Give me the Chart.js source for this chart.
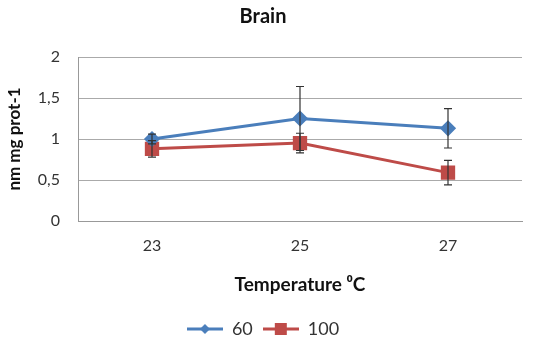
<!DOCTYPE html>
<html>
<head>
<meta charset="utf-8">
<script src="https://cdn.jsdelivr.net/npm/chart.js@4.4.1/dist/chart.umd.min.js"></script>
<style>
  html, body { margin: 0; padding: 0; background: #fff; }
  #wrap { width: 537px; height: 348px; }
</style>
</head>
<body>
<div id="wrap"><canvas id="c" width="537" height="348"></canvas></div>
<script>
const temperatures = ['23', '25', '27'];
const series60 = [1.0, 1.25, 1.13];
const err60 = [0.06, 0.39, 0.24];
const series100 = [0.88, 0.95, 0.59];
const err100 = [0.10, 0.12, 0.15];
const yTicks = [0, 0.5, 1, 1.5, 2];

const BLUE = '#4a7ebb';
const RED = '#be4b48';
const FONT = 'Lato, "Open Sans", sans-serif';

// legend swatch: a short line with the series marker on it
function swatch(color, shape) {
  const cv = document.createElement('canvas');
  cv.width = 36; cv.height = 16;
  const g = cv.getContext('2d');
  g.strokeStyle = color; g.lineWidth = 3;
  g.beginPath(); g.moveTo(0, 8); g.lineTo(36, 8); g.stroke();
  g.fillStyle = color;
  if (shape === 'diamond') {
    g.beginPath(); g.moveTo(18, 3); g.lineTo(23, 8); g.lineTo(18, 13); g.lineTo(13, 8); g.closePath(); g.fill();
  } else {
    g.fillRect(12, 2, 12, 12);
  }
  return cv;
}

// vertical error bars with caps, drawn on top of the lines
const errorBars = {
  id: 'errorBars',
  afterDatasetsDraw(chart) {
    const ctx = chart.ctx;
    const y = chart.scales.y;
    ctx.save();
    ctx.strokeStyle = '#333';
    ctx.lineWidth = 1.2;
    chart.data.datasets.forEach((ds, di) => {
      const meta = chart.getDatasetMeta(di);
      meta.data.forEach((pt, i) => {
        const v = ds.data[i], e = ds.errors[i];
        const top = y.getPixelForValue(v + e);
        const bot = y.getPixelForValue(v - e);
        ctx.beginPath();
        ctx.moveTo(pt.x, top); ctx.lineTo(pt.x, bot);
        ctx.moveTo(pt.x - 4, top); ctx.lineTo(pt.x + 4, top);
        ctx.moveTo(pt.x - 4, bot); ctx.lineTo(pt.x + 4, bot);
        ctx.stroke();
      });
    });
    ctx.restore();
  }
};

new Chart(document.getElementById('c'), {
  type: 'line',
  data: {
    labels: temperatures,
    datasets: [
      {
        label: '60', data: series60, errors: err60,
        borderColor: BLUE, backgroundColor: BLUE, borderWidth: 3,
        pointStyle: 'rectRot', pointRadius: 6, pointHoverRadius: 6,
        tension: 0, legendSwatch: swatch(BLUE, 'diamond')
      },
      {
        label: '100', data: series100, errors: err100,
        borderColor: RED, backgroundColor: RED, borderWidth: 3,
        pointStyle: 'rect', pointRadius: 8, pointHoverRadius: 8,
        tension: 0, legendSwatch: swatch(RED, 'square')
      }
    ]
  },
  options: {
    responsive: false,
    animation: false,
    devicePixelRatio: 1,
    layout: { padding: { left: 4, right: 15, top: 0, bottom: 0 } },
    plugins: {
      title: {
        display: true, text: 'Brain', color: '#111',
        font: { family: FONT, size: 20, weight: 'bold' },
        padding: { top: 5, bottom: 28 }
      },
      legend: {
        position: 'bottom',
        labels: {
          usePointStyle: true,
          pointStyleWidth: 36,
          color: '#333',
          font: { family: FONT, size: 18 },
          padding: 10,
          generateLabels(chart) {
            return chart.data.datasets.map((ds, i) => ({
              text: ds.label, pointStyle: ds.legendSwatch,
              fillStyle: ds.borderColor, strokeStyle: ds.borderColor,
              lineWidth: 0, hidden: false, datasetIndex: i, fontColor: '#333'
            }));
          }
        }
      },
      tooltip: { enabled: false }
    },
    scales: {
      x: {
        offset: true,
        grid: { display: false, drawTicks: false },
        border: { display: true, color: '#999', width: 1 },
        ticks: { color: '#333', font: { family: FONT, size: 16 }, padding: 15 },
        title: {
          display: true, text: 'Temperature ⁰C', color: '#111',
          font: { family: FONT, size: 19, weight: 'bold' },
          padding: { top: 3, bottom: 14 }
        }
      },
      y: {
        min: 0, max: 2,
        afterBuildTicks(scale) { scale.ticks = yTicks.map(v => ({ value: v })); },
        grid: { color: '#aaa', lineWidth: 1, drawTicks: false },
        border: { display: true, color: '#999', width: 1 },
        ticks: {
          color: '#333', font: { family: FONT, size: 16 }, padding: 18,
          callback: v => String(v).replace('.', ',')
        },
        title: {
          display: true, text: 'nm mg prot-1', color: '#111',
          font: { family: FONT, size: 17, weight: 'bold' },
          padding: { top: 0, bottom: 2 }
        },
        afterFit(scale) { scale.width = 74; }
      }
    }
  },
  plugins: [errorBars]
});
</script>
</body>
</html>
